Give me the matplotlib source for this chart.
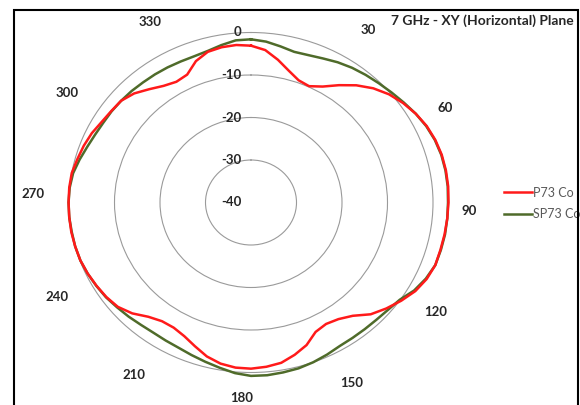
import numpy as np
import matplotlib
matplotlib.use("Agg")
import matplotlib.pyplot as plt
import matplotlib.patches as mpatches

plt.rcParams['font.family'] = ['Lato', 'DejaVu Sans']

# measured pattern, dB, every 5 degrees (0 = top, clockwise)
angles_deg = list(range(0, 360, 5))

p73_co = [-3.1, -4.0, -5.9, -7.9, -9.4, -9.8, -8.5, -6.3, -4.0, -2.0,
          -0.4, 0.8, 1.8, 2.6, 3.1, 3.4, 3.5, 3.5, 3.4, 3.3,
          3.2, 3.1, 3.1, 2.6, 1.7, 0.3, -1.2, -2.8, -5.2, -6.5,
          -7.0, -6.4, -4.3, -2.9, -1.7, -1.2, -0.9, -1.0, -1.5, -2.5,
          -4.0, -5.3, -6.0, -5.9, -4.9, -3.1, -1.8, -1.2, -0.8, -0.4,
          -0.1, 0.0, 0.1, 0.1, 0.1, 0.1, 0.0, -0.5, -0.9, -1.4,
          -2.1, -2.5, -2.75, -3.7, -5.2, -6.5, -7.2, -6.8, -4.6, -3.3,
          -2.9, -2.8]

sp73_co = [-1.6, -2.0, -2.7, -3.3, -3.1, -2.6, -1.9, -1.3, -0.8, -0.3,
           0.3, 1.0, 1.8, 2.5, 3.0, 3.3, 3.4, 3.4, 3.3, 3.3,
           3.3, 3.2, 3.1, 2.4, 1.4, -0.1, -0.7, -1.0, -1.1, -1.1,
           -1.0, -0.5, 0.0, 0.4, 0.6, 0.8, 0.8, 0.3, -0.5, -1.2,
           -1.8, -2.3, -2.5, -2.6, -2.4, -2.0, -1.6, -1.1, -0.75, -0.4,
           -0.1, 0.0, 0.0, 0.1, 0.1, 0.0, -0.3, -1.0, -1.7, -2.2,
           -2.5, -2.6, -2.75, -2.9, -3.1, -3.2, -3.3, -3.4, -3.4, -3.1,
           -2.4, -1.7]

theta_ticks = [30, 60, 90, 120, 150, 180, 210, 240, 270, 300, 330]
theta_labels = ['30', '60', '90', '120', '150', '180', '210', '240', '270', '300', '330']
r_ticks = [-40, -30, -20, -10, 0]

fig = plt.figure(figsize=(5.8, 4.05), dpi=100)
ax = fig.add_axes([69 / 580, 32.5 / 405, 364 / 580, 340 / 405], projection='polar')
ax.set_aspect('auto')
ax.set_theta_zero_location('N')
ax.set_theta_direction(-1)
ax.set_rlim(-40, 0)

# close the loops
th = np.deg2rad(angles_deg + [360])
ax.plot(th, p73_co + p73_co[:1], color='#ff1a1a', lw=1.8, label='P73 Co', clip_on=False, zorder=4)
ax.plot(th, sp73_co + sp73_co[:1], color='#4f6b2a', lw=1.8, label='SP73 Co', clip_on=False, zorder=3)

ax.set_yticks(r_ticks[1:-1])
ax.set_yticklabels([])
ax.yaxis.grid(True, color='#9a9a9a', lw=0.8)
ax.xaxis.grid(False)
ax.set_xticks([])
ax.spines['polar'].set_color('#9a9a9a')
ax.spines['polar'].set_linewidth(0.8)

# angle labels sit a little outside the outer ring, slightly turned clockwise
for deg, lbl in zip(theta_ticks, theta_labels):
    a = np.deg2rad(deg + 2.5)
    rr = 1.15 if deg == 180 else 1.2
    ax.text(0.5 + 0.5 * rr * np.sin(a), 0.5 + 0.5 * rr * np.cos(a), lbl,
            transform=ax.transAxes, ha='center', va='center',
            fontsize=9.5, fontweight='bold', color='#262626')

for r in r_ticks:
    ax.annotate(str(r), xy=(0, r), xytext=(-7, 0), textcoords='offset points',
                ha='right', va='center', fontsize=9.5, fontweight='bold', color='#262626')

fig.text(574 / 580, 1 - 21 / 405, '7 GHz - XY (Horizontal) Plane', ha='right', va='center',
         fontsize=10, fontweight='bold', color='#262626')

ax.legend(loc='center left', bbox_to_anchor=(498 / 580, 1 - 203.5 / 405),
          bbox_transform=fig.transFigure, frameon=False, fontsize=9,
          handlelength=2.2, handletextpad=0.1, labelspacing=0.75, borderpad=0,
          labelcolor='#595959')

border = mpatches.Rectangle((14 / 580, -0.05), 564 / 580, 0.05 + 395 / 405,
                            transform=fig.transFigure, fill=False, ec='black', lw=1.5)
fig.add_artist(border)

fig.savefig('out.png', dpi=100)
